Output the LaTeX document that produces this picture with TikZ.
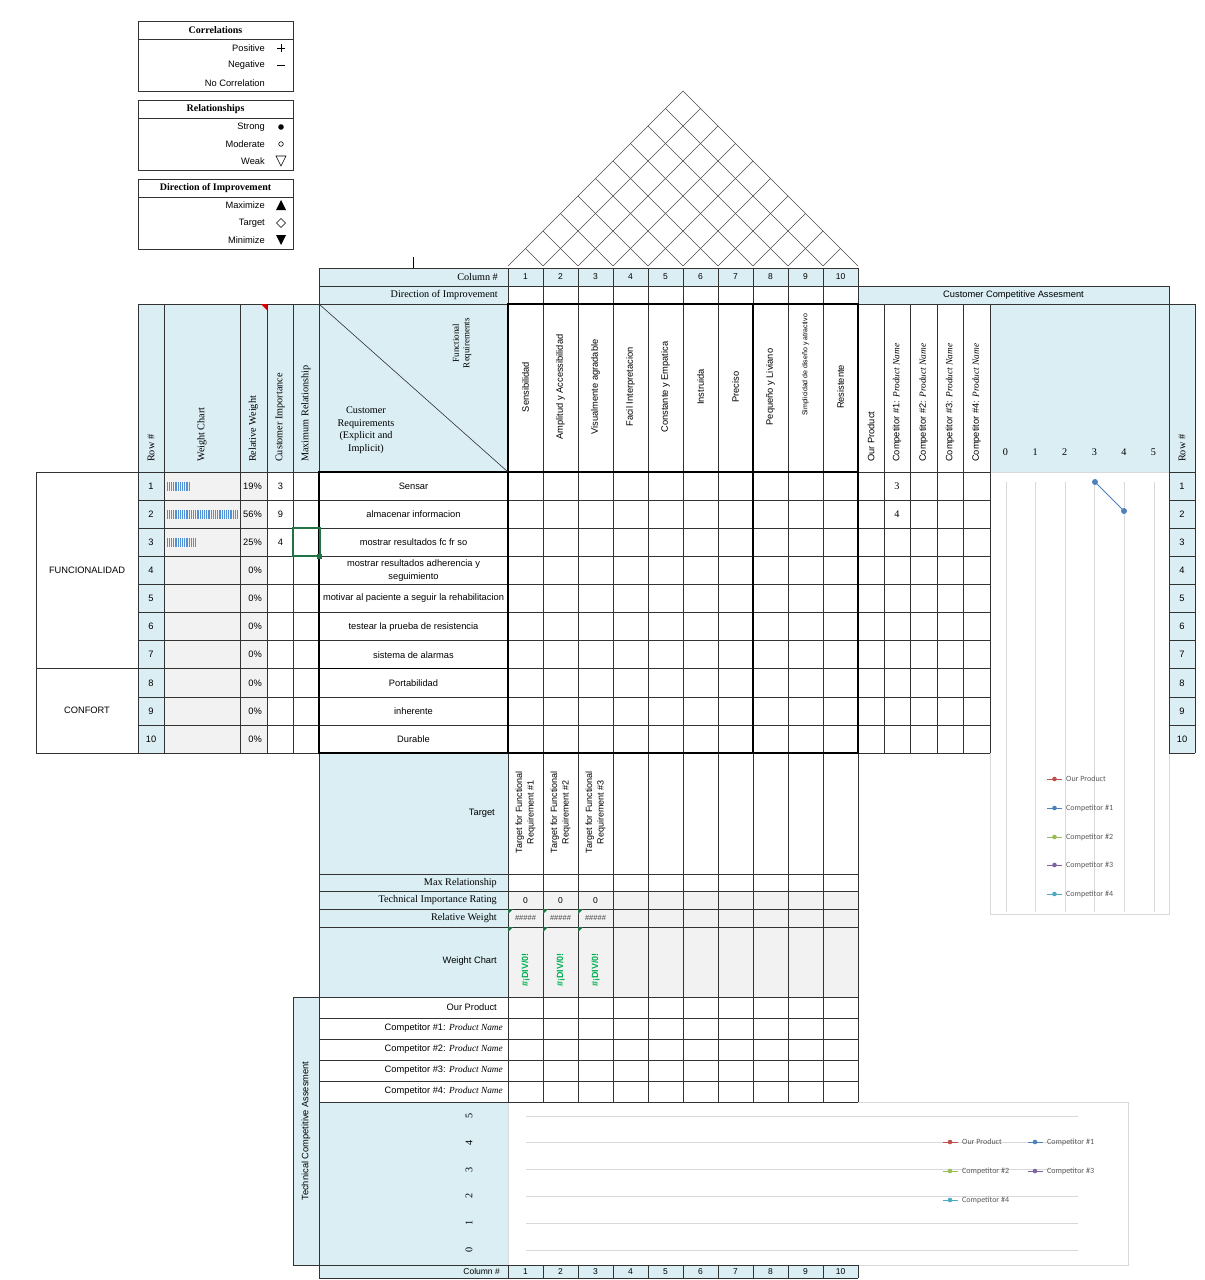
\documentclass[tikz,border=0pt]{standalone}
\usepackage{fontspec}
\setmainfont{Liberation Serif}
\setsansfont{Liberation Sans}
\newfontfamily\chartfont{Carlito}
\usetikzlibrary{positioning,shapes.geometric}
\definecolor{hdrblue}{RGB}{218,238,243}
\definecolor{cellgray}{RGB}{242,242,242}
\definecolor{xlgreen}{RGB}{33,115,70}
\definecolor{errgreen}{RGB}{0,176,80}
\definecolor{barblue}{RGB}{84,145,212}
\definecolor{serred}{RGB}{192,80,77}
\definecolor{serblue}{RGB}{79,129,189}
\definecolor{sergreen}{RGB}{155,187,89}
\definecolor{serpurple}{RGB}{128,100,162}
\definecolor{serteal}{RGB}{75,172,198}
\newcommand{\sfs}{\sffamily\fontsize{9.3}{12.5}\selectfont}
\newcommand{\sfsmall}{\sffamily\fontsize{8.5}{10}\selectfont}
\newcommand{\rms}{\rmfamily\fontsize{10.2}{12.5}\selectfont}
\newcommand{\pname}{{\rmfamily\itshape Product Name}}
\tikzset{
  gline/.style={line width=0.6pt, draw=black!80},
  tline/.style={line width=1.5pt, draw=black},
  sftext/.style={font=\sfs, inner sep=1pt},
  rmtext/.style={font=\rms, inner sep=1pt},
  chartgrid/.style={draw=black!15, line width=0.7pt},
  legtext/.style={font=\chartfont\fontsize{8}{10}\selectfont, text=black!65, anchor=west, inner sep=0pt},
}

\begin{document}
\begin{tikzpicture}[x=1pt,y=-1pt]
\useasboundingbox[fill=white] (0,0) rectangle (1205,1280);

% legend boxes
\foreach \yb/\ttl in {21/Correlations, 100/Relationships, 179/Direction of Improvement} {
  \draw[gline] (138,\yb) rectangle (293,\yb+70);
  \draw[gline] (138,\yb+18) -- (293,\yb+18);
  \node[rmtext, font=\rmfamily\bfseries\fontsize{10}{12}\selectfont] (leg\yb) at (215.5,\yb+9) {\ttl};
}
\node[sftext, anchor=east] (lpos) at (266,48) {Positive};
\node[sftext, anchor=east] (lneg) at (266,65) {Negative};
\node[sftext, anchor=east] (lnoc) at (266,83) {No Correlation};
\node[sftext, anchor=east] (lstr) at (266,127) {Strong};
\node[sftext, anchor=east] (lmod) at (266,144) {Moderate};
\node[sftext, anchor=east] (lweak) at (266,161) {Weak};
\node[sftext, anchor=east] (lmax) at (266,205) {Maximize};
\node[sftext, anchor=east] (ltar) at (266,223) {Target};
\node[sftext, anchor=east] (lmin) at (266,240) {Minimize};
\draw[line width=0.7pt] (277,48) -- (285,48) (281,44) -- (281,52);
\draw[line width=0.7pt] (277,65) -- (285,65);
\fill (281,127) circle (2.8pt);
\draw[line width=0.6pt] (281,144) circle (2.3pt);
\draw[line width=0.6pt] (276,156) -- (286,156) -- (281,166) -- cycle;
\fill (276,210) -- (286,210) -- (281,200) -- cycle;
\draw[line width=0.6pt] (281,218.5) -- (285.5,223) -- (281,227.5) -- (276.5,223) -- cycle;
\fill (276,235) -- (286,235) -- (281,245) -- cycle;

% roof
\draw[gline, draw=black!70] (508,266) -- (683,91) -- (858,266);
\foreach \k in {1,...,9} {
  \draw[gline, draw=black!70] (508+35*\k,266) -- ++(-17.5*\k,-17.5*\k);
  \draw[gline, draw=black!70] (508+35*\k,266) -- ++(175-17.5*\k,-175+17.5*\k);
}
\draw (413,257) -- (413,268);

% fills
\fill[hdrblue] (319,268) rectangle (858,286);
\fill[hdrblue] (319,286) rectangle (508,304);
\fill[hdrblue] (858,286) rectangle (1169,304);
\fill[hdrblue] (138,304) rectangle (508,472);
\fill[hdrblue] (990,304) rectangle (1169,472);
\fill[hdrblue] (1169,304) rectangle (1195,753);
\fill[hdrblue] (138,472) rectangle (164,753);
\fill[cellgray] (164,472) rectangle (267,753);
\fill[hdrblue] (319,753) rectangle (508,997);
\fill[cellgray] (508,891) rectangle (858,997);
\fill[hdrblue] (293,997) rectangle (319,1265);
\fill[hdrblue] (319,1102) rectangle (508,1265);
\fill[hdrblue] (319,1265) rectangle (858,1278);

% charts
\draw[chartgrid, fill=white] (990,472) rectangle (1169,914);
\foreach \k in {0,...,5}
  \draw[chartgrid] (1006+29.6*\k,482) -- (1006+29.6*\k,912);
\draw[chartgrid, fill=white] (508,1102) rectangle (1128,1265);
\foreach \j in {0,...,5}
  \draw[chartgrid] (526,1250-26.8*\j) -- (1078,1250-26.8*\j);

% grid lines
\draw[gline] (319,268) -- (858,268) (319,286) -- (1169,286) (138,304) -- (1195,304);
\draw[gline] (319,268) -- (319,304);
\foreach \x in {138,164,240,267,293,319}
  \draw[gline] (\x,304) -- (\x,753);
\foreach \i in {0,...,10} {
  \draw[gline] (138,472+28.1*\i) -- (990,472+28.1*\i);
  \draw[gline] (1169,472+28.1*\i) -- (1195,472+28.1*\i);
}
\foreach \k in {0,...,10} {
  \draw[gline] (508+35*\k,268) -- (508+35*\k,1102);
  \draw[gline] (508+35*\k,1265) -- (508+35*\k,1278);
}
\foreach \x in {884,910,937,963,990}
  \draw[gline] (\x,304) -- (\x,753);
\draw[gline] (1169,286) -- (1169,753) (1195,304) -- (1195,753);
\foreach \y in {753,874,891,909,927,997,1018,1039,1060,1081,1102}
  \draw[gline] (319,\y) -- (858,\y);
\draw[gline] (319,753) -- (319,1278) (293,997) -- (293,1265);
\draw[gline] (293,997) -- (319,997) (293,1265) -- (858,1265) (319,1278) -- (858,1278);
\draw[gline] (36,472) rectangle (138,668.7);
\draw[gline] (36,668.7) rectangle (138,753);

% thick borders
\draw[tline] (508,304) rectangle (858,753);
\draw[tline] (508,472) -- (858,472) (753,304) -- (753,753);
\draw[tline] (319,472) rectangle (508,753);
\draw[tline] (319,668.7) -- (508,668.7);
\fill[red!85!black] (261,304) -- (267,304) -- (267,310) -- cycle;

% header texts
\node[rmtext, anchor=east] (colhdr) at (499,277) {Column \#};
\node[rmtext, anchor=east] (dirhdr) at (499,295) {Direction of Improvement};
\node[sftext] (cca) at (1013.5,295) {Customer Competitive Assesment};
\foreach \k in {1,...,10} {
  \node[sftext, font=\sfsmall] (cn\k) at (490.5+35*\k,277) {\k};
  \node[sftext, font=\sfsmall] (bn\k) at (490.5+35*\k,1271.5) {\k};
}
\node[sftext, font=\sfsmall, anchor=east] (colbot) at (501,1271.5) {Column \#};
\foreach \x/\t in {151/Row \#, 202/Weight Chart, 253.5/Relative Weight, 280/Customer Importance, 306/Maximum Relationship}
  \node[rmtext, rotate=90, anchor=west] at (\x,463) {\t};
\draw[gline] (319,304) -- (508,472);
\node[rmtext, font=\rmfamily\fontsize{9}{10.5}\selectfont, rotate=90, align=center] (funreq) at (462,343) {Functional\\Requirements};
\node[rmtext, align=center] (cusreq) at (366,430) {Customer\\Requirements\\(Explicit and\\Implicit)};
\foreach \k/\name in {1/Sensibilidad, 2/Amplitud y Accessibilidad, 3/Visualmente agradable, 4/Facil Interpretacion, 5/Constante y Empatica, 6/Instruida, 7/Preciso, 8/Pequeño y Liviano, 10/Resistente}
  \node[sftext, rotate=90] (fr\k) at (490.5+35*\k,387) {\name};
\node[sftext, rotate=90, font=\sffamily\fontsize{7}{8}\selectfont] (fr9) at (805.5,365) {Simplicidad de diseño y atractivo};
\node[sftext, rotate=90, anchor=west] (ourp) at (871,463) {Our Product};
\foreach \x/\n in {897/1, 923.5/2, 950/3, 976.5/4}
  \node[sftext, rotate=90, anchor=west] (cp\n) at (\x,463) {Competitor \#\n: \pname};
\foreach \k in {0,...,5}
  \node[rmtext] (sc\k) at (1005.5+29.6*\k,452) {\k};
\node[rmtext, rotate=90, anchor=west] (rowr) at (1182,463) {Row \#};

% rows
\foreach \i in {1,...,10} {
  \node[sftext] (rl\i) at (151,458+28.1*\i) {\i};
  \node[sftext] (rr\i) at (1182,458+28.1*\i) {\i};
}
\foreach \i/\p in {1/19,2/56,3/25,4/0,5/0,6/0,7/0,8/0,9/0,10/0}
  \node[sftext, anchor=east] (rw\i) at (263,458+28.1*\i) {\p\%};
\foreach \i/\v in {1/3,2/9,3/4}
  \node[sftext] (ci\i) at (280.5,458+28.1*\i) {\v};
\foreach \i/\n in {1/11,2/33,3/14}
  \foreach \b in {1,...,\n}
    \draw[barblue, line width=1.1pt] (165+2.2*\b,453.6+28.1*\i) -- ++(0,9);
\foreach \i/\t in {1/Sensar, 2/almacenar informacion, 3/mostrar resultados fc fr so, 4/{mostrar resultados adherencia y\\seguimiento}, 5/motivar al paciente a seguir la rehabilitacion, 6/testear la prueba de resistencia, 7/sistema de alarmas, 8/Portabilidad, 9/inherente, 10/Durable}
  \node[sftext, align=center] (req\i) at (413.5,458+28.1*\i) {\t};
\node[sftext] (funcion) at (87,570) {FUNCIONALIDAD};
\node[sftext] (confort) at (87,710.5) {CONFORT};
\node[rmtext] (v1) at (897,486) {3};
\node[rmtext] (v2) at (897,514) {4};
\draw[xlgreen, line width=2pt] (293,528.2) rectangle (319.5,556.3);
\fill[xlgreen] (317,554) rectangle ++(5,5);

% customer chart
\coordinate (p1) at (1095,482);
\coordinate (p2) at (1124,511);
\draw[serblue, line width=1pt] (p1) -- (p2);
\fill[serblue] (p1) circle (3pt) (p2) circle (3pt);
\foreach \y/\c/\t in {779/serred/Our Product, 808/serblue/Competitor \#1, 837/sergreen/Competitor \#2, 865/serpurple/Competitor \#3, 894/serteal/Competitor \#4} {
  \draw[\c, line width=0.8pt] (1047,\y) -- (1062,\y);
  \fill[\c] (1054.5,\y) circle (2.3pt);
  \node[legtext] at (1066,\y) {\t};
}

% lower rows
\node[sftext, anchor=east] (target) at (496,813) {Target};
\foreach \k in {1,2,3}
  \node[sftext, rotate=90, align=center, font=\sffamily\fontsize{9}{11.5}\selectfont] (tg\k) at (490.5+35*\k,812) {Target for Functional\\Requirement \#\k};
\node[rmtext, anchor=east] (maxrel) at (498,883) {Max Relationship};
\node[rmtext, anchor=east] (tir) at (498,900.5) {Technical Importance Rating};
\node[rmtext, anchor=east] (relw) at (498,918) {Relative Weight};
\node[sftext, anchor=east] (wchart) at (498,961) {Weight Chart};
\foreach \k in {1,2,3} {
  \node[sftext, font=\sfsmall] (tv\k) at (490.5+35*\k,900.5) {0};
  \node[sftext, font=\sffamily\fontsize{7.5}{9}\selectfont, text=black!75] (hw\k) at (490.5+35*\k,918) {\#\#\#\#\#};
  \node[sftext, rotate=90, font=\sffamily\bfseries\fontsize{9}{11}\selectfont, text=errgreen] (dv\k) at (490.5+35*\k,970) {\#¡DIV/0!};
  \fill[xlgreen] (473+35*\k,909) -- ++(5,0) -- ++(-5,5) -- cycle;
  \fill[xlgreen] (473+35*\k,927) -- ++(5,0) -- ++(-5,5) -- cycle;
}
\node[sftext, anchor=east] (tour) at (498,1007.5) {Our Product};
\foreach \n in {1,...,4}
  \node[sftext, anchor=east] (tc\n) at (504,1007.5+21*\n) {Competitor \#\n: \pname};
\node[sftext, rotate=90] (tca) at (306,1131) {Technical Competitive Assesment};
\foreach \j in {0,...,5}
  \node[rmtext, rotate=90] (ax\j) at (469,1250-26.8*\j) {\j};

% technical chart legend
\foreach \x/\y/\c/\t in {950/1142/serred/Our Product, 1035/1142/serblue/Competitor \#1, 950/1171/sergreen/Competitor \#2, 1035/1171/serpurple/Competitor \#3, 950/1200/serteal/Competitor \#4} {
  \draw[\c, line width=0.8pt] (\x-7.5,\y) -- (\x+7.5,\y);
  \fill[\c] (\x,\y) circle (2.3pt);
  \node[legtext] at (\x+12,\y) {\t};
}
\end{tikzpicture}
\end{document}
